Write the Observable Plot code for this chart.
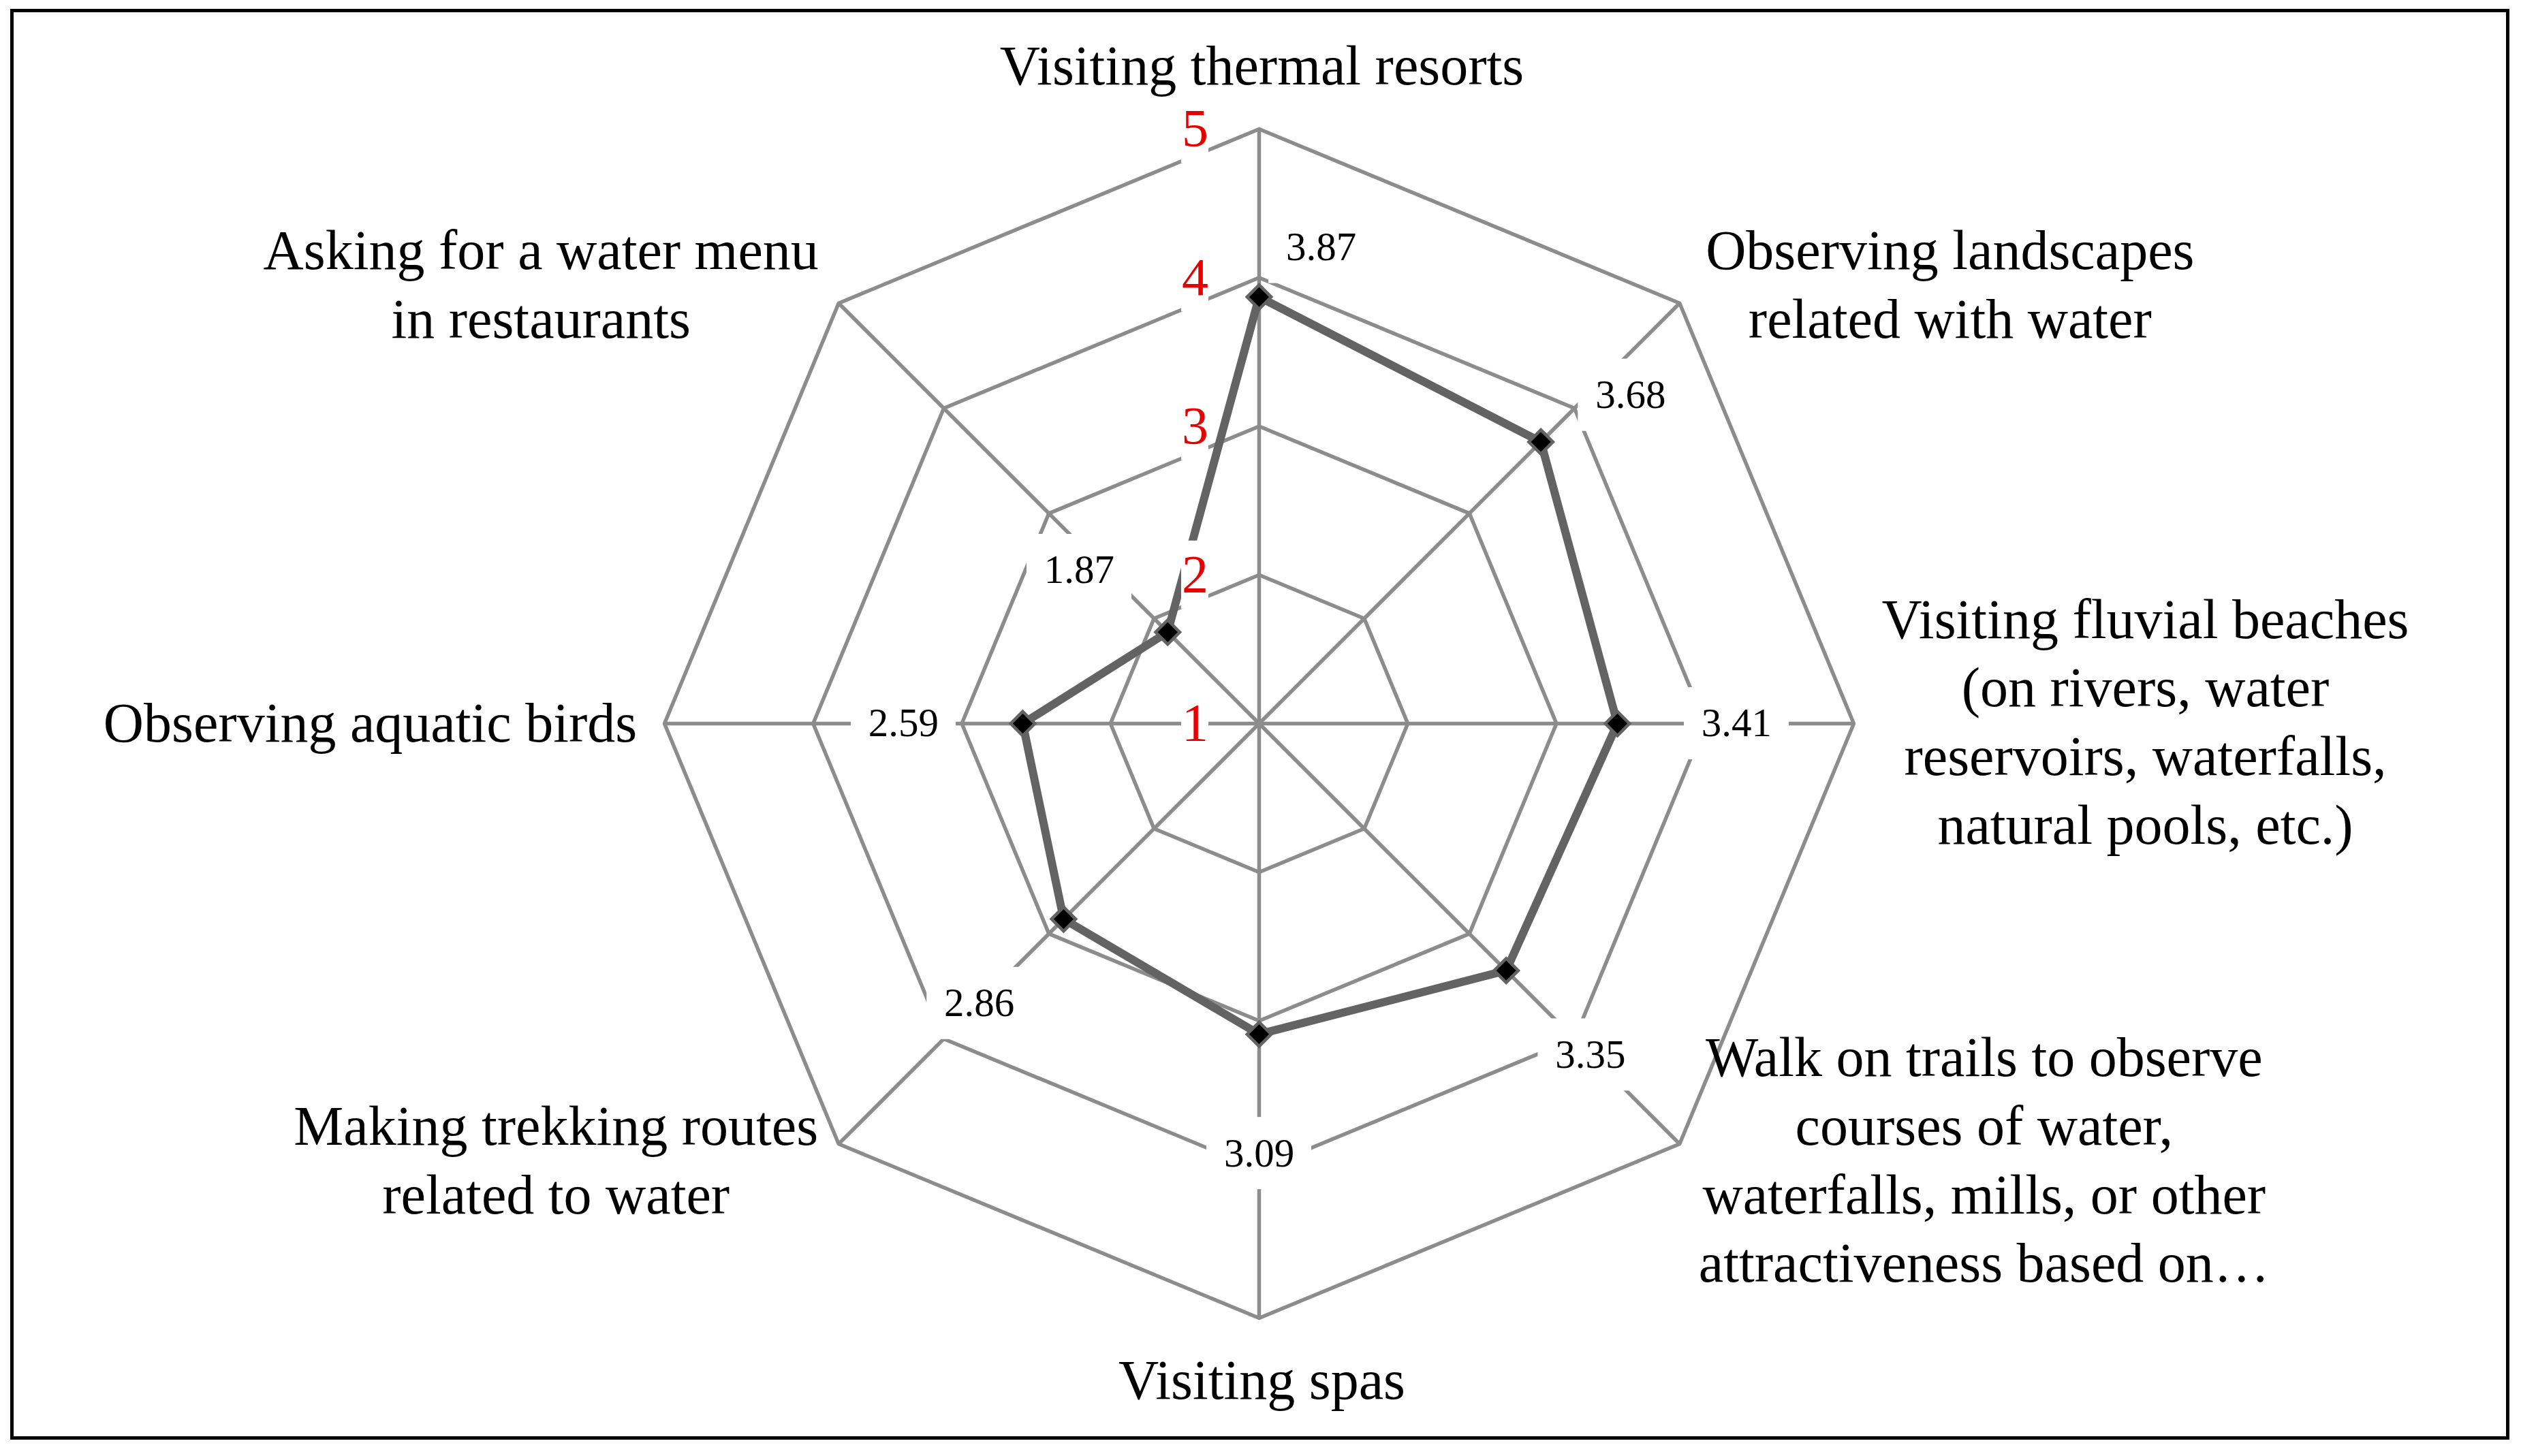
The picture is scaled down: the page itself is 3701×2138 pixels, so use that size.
<!DOCTYPE html>
<html>
<head>
<meta charset="utf-8">
<script src="https://cdn.jsdelivr.net/npm/d3@7"></script>
<script src="https://cdn.jsdelivr.net/npm/@observablehq/plot@0.6"></script>
<style>
  html, body { margin: 0; padding: 0; background: #fff; }
  #chart svg { display: block; }
</style>
</head>
<body>
<div id="chart"></div>
<script>
// ---------- data ----------
const categories = [
  "Visiting thermal resorts",
  "Observing landscapes\nrelated with water",
  "Visiting fluvial beaches\n(on rivers, water\nreservoirs, waterfalls,\nnatural pools, etc.)",
  "Walk on trails to observe\ncourses of water,\nwaterfalls, mills, or other\nattractiveness based on…",
  "Visiting spas",
  "Making trekking routes\nrelated to water",
  "Observing aquatic birds",
  "Asking for a water menu\nin restaurants"
];
const values = [3.87, 3.68, 3.41, 3.35, 3.09, 2.86, 2.59, 1.87];
const tickValues = [1, 2, 3, 4, 5];
const tickLabels = ["1", "2", "3", "4", "5"];

// ---------- layout / style constants ----------
const W = 3701, H = 2138;
const CX = 1848, CY = 1062, R = 873;          // centre and outer radius in px
const rMin = 1, rMax = 5;
const N = categories.length;
const ang = i => 2 * Math.PI * i / N;
const rad = v => (v - rMin) / (rMax - rMin);
const P = 1 / R;                                // data units per pixel
const labelOffset = 175;                        // px beyond the point
const labelNudge = {0: [91, 102], 1: [8, 55], 7: [-6, 33]};
// category label block centre offsets from outer vertex (px)
const catNudge = [[4, -98], [397, -32], [428, -7], [447, 19], [4, 86], [-415, 19], [-432, -6], [-437, -32]];
const gridColor = "#8c8c8c";
const lineColor = "#636363";
const serif = "'Liberation Serif', 'Times New Roman', serif";

// ---------- derived geometry ----------
const ringPts = [];
tickValues.filter(v => v > rMin).forEach(v => {
  for (let k = 0; k <= N; k++) {
    const i = k % N;
    ringPts.push({ring: v, x: rad(v) * Math.sin(ang(i)), y: rad(v) * Math.cos(ang(i))});
  }
});
const spokes = categories.map((c, i) => ({x1: 0, y1: 0, x2: Math.sin(ang(i)), y2: Math.cos(ang(i))}));

const pts = values.map((v, i) => ({i, v, x: rad(v) * Math.sin(ang(i)), y: rad(v) * Math.cos(ang(i))}));
const closed = pts.concat([pts[0]]);

const dataLabels = values.map((v, i) => {
  const d = rad(v) + labelOffset * P;
  const n = labelNudge[i] || [0, 0];
  return {text: v.toFixed(2), x: d * Math.sin(ang(i)) + n[0] * P, y: d * Math.cos(ang(i)) - n[1] * P};
});
const dlBoxW = 154, dlBoxH = 106;

const ticks = tickValues.map((v, k) => ({text: tickLabels[k], x: -94 * P, y: rad(v)}));
const tkBoxW = 40, tkBoxH = 100;

const catLabels = categories.map((c, i) => ({
  text: c,
  x: Math.sin(ang(i)) + catNudge[i][0] * P,
  y: Math.cos(ang(i)) - catNudge[i][1] * P
}));

const boxes = dataLabels.map(d => ({x1: d.x - dlBoxW / 2 * P, x2: d.x + dlBoxW / 2 * P, y1: d.y - dlBoxH / 2 * P, y2: d.y + dlBoxH / 2 * P}))
  .concat(ticks.map(d => ({x1: d.x - tkBoxW / 2 * P, x2: d.x + tkBoxW / 2 * P, y1: d.y - tkBoxH / 2 * P, y2: d.y + tkBoxH / 2 * P})));

const chart = Plot.plot({
  width: W,
  height: H,
  margin: 0,
  x: {domain: [-CX / R, (W - CX) / R], range: [0, W], axis: null},
  y: {domain: [-(H - CY) / R, CY / R], range: [H, 0], axis: null},
  style: {background: "#fff"},
  marks: [
    Plot.frame({stroke: "black", strokeWidth: 5, insetLeft: 17, insetTop: 15, insetRight: 20, insetBottom: 27}),
    Plot.line(ringPts, {x: "x", y: "y", z: "ring", stroke: gridColor, strokeWidth: 5.5, strokeLinejoin: "miter"}),
    Plot.link(spokes, {x1: "x1", y1: "y1", x2: "x2", y2: "y2", stroke: gridColor, strokeWidth: 5.5}),
    Plot.line(closed, {x: "x", y: "y", stroke: lineColor, strokeWidth: 12, strokeLinejoin: "miter"}),
    Plot.dot(pts, {x: "x", y: "y", symbol: "diamond2", r: 16, fill: "black", stroke: lineColor, strokeWidth: 4.5}),
    Plot.rect(boxes, {x1: "x1", x2: "x2", y1: "y1", y2: "y2", fill: "white"}),
    Plot.text(dataLabels, {x: "x", y: "y", text: "text", fontSize: 59, fontFamily: serif, fill: "black", textAnchor: "middle", lineAnchor: "middle"}),
    Plot.text(ticks, {x: "x", y: "y", text: "text", fontSize: 78, fontFamily: serif, fill: "#e60000", textAnchor: "middle", lineAnchor: "middle"}),
    Plot.text(catLabels, {x: "x", y: "y", text: "text", fontSize: 82, lineHeight: 1.23, fontFamily: serif, fill: "black", textAnchor: "middle", lineAnchor: "middle"})
  ]
});
document.getElementById("chart").appendChild(chart);
</script>
</body>
</html>
